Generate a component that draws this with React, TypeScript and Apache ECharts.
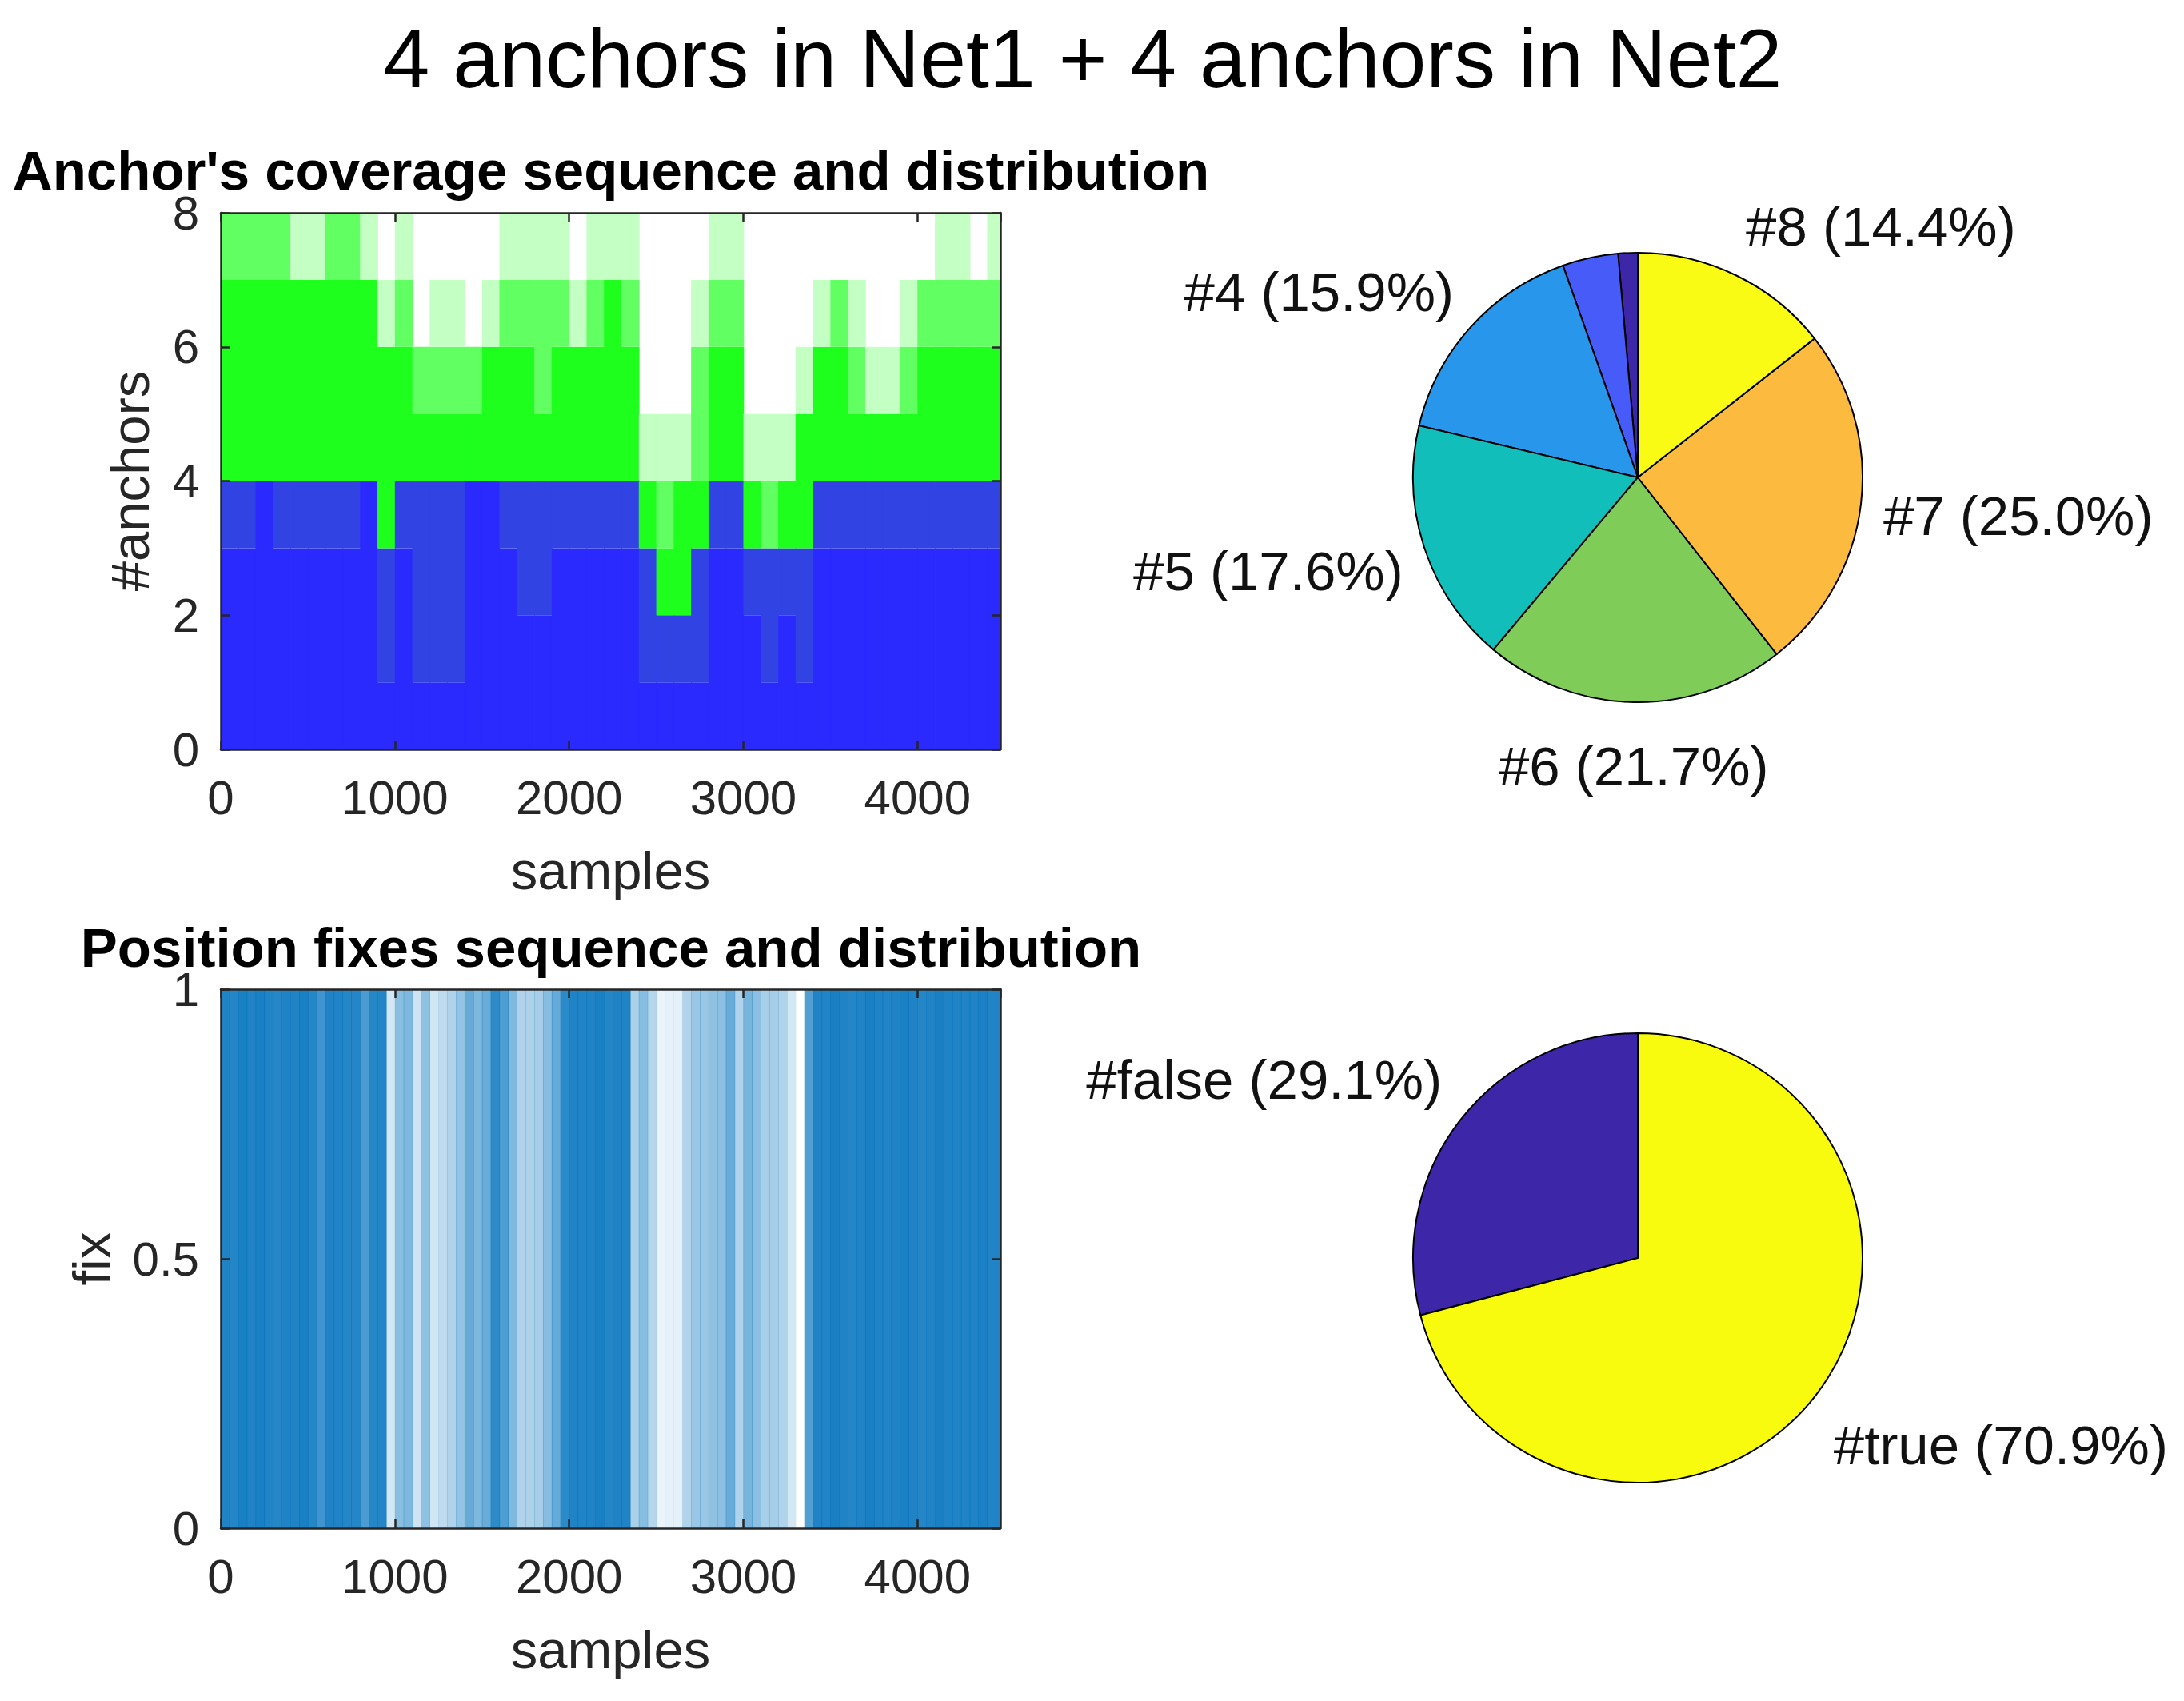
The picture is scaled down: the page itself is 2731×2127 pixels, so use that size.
import React, { useEffect, useRef } from "react";
import * as echarts from "echarts";

// ---------------- data ----------------
const X_MAX = 4476;
const X_TICK_STEP = 1000;

// anchor coverage, summarised per bin of 100 samples
const COVERAGE_BIN = 100;
const net1Min = [3, 3, 4, 3, 3, 3, 3, 3, 4, 1, 3, 1, 1, 1, 4, 4, 3, 2, 2, 3, 3, 3, 3, 3, 1, 1, 1, 1, 3, 3, 2, 1, 2, 1, 3, 3, 3, 3, 3, 3, 3, 3, 3, 3, 3];
const net1Main = [4, 4, 4, 4, 4, 4, 4, 4, 4, 3, 4, 4, 4, 4, 4, 4, 4, 4, 4, 4, 4, 4, 4, 4, 3, 2, 2, 3, 4, 4, 3, 3, 3, 3, 4, 4, 4, 4, 4, 4, 4, 4, 4, 4, 4];
const totalMin = [7, 7, 7, 7, 7, 7, 7, 7, 7, 6, 6, 5, 5, 5, 5, 6, 6, 6, 5, 6, 6, 6, 7, 6, 4, 3, 4, 4, 6, 6, 4, 3, 4, 5, 6, 6, 5, 5, 5, 5, 6, 6, 6, 6, 6];
const totalMain = [8, 8, 8, 8, 7, 7, 8, 8, 7, 6, 7, 6, 6, 6, 6, 6, 7, 7, 7, 7, 6, 7, 7, 7, 4, 4, 4, 6, 7, 7, 4, 4, 4, 5, 6, 7, 6, 5, 5, 6, 7, 7, 7, 7, 7];
const totalMax = [8, 8, 8, 8, 8, 8, 8, 8, 8, 7, 8, 6, 7, 7, 6, 7, 8, 8, 8, 8, 7, 8, 8, 8, 5, 5, 5, 7, 8, 8, 5, 5, 5, 6, 7, 7, 7, 6, 6, 7, 7, 8, 8, 7, 8];
const anchorTicks = { min: 0, max: 8, interval: 2 };

// position fixes, share of samples with a fix per bin of 50 samples
const FIX_BIN = 50;
const fixShare = [
  0.88, 0.86, 0.9, 0.88, 0.9, 0.87, 0.85, 0.88, 0.88, 0.9,
  0.85, 0.75, 0.88, 0.87, 0.85, 0.86, 0.7, 0.85, 0.86,
  0.17, 0.46, 0.5, 0.19, 0.44, 0.18, 0.25, 0.31, 0.42, 0.6,
  0.5, 0.59, 0.82, 0.69, 0.5, 0.31, 0.32, 0.35, 0.47, 0.6,
  0.83, 0.88, 0.87, 0.88, 0.9, 0.86, 0.88, 0.88,
  0.33, 0.47, 0.29, 0.08, 0.1, 0.1, 0.3, 0.4, 0.4, 0.44,
  0.45, 0.59, 0.31, 0.53, 0.45, 0.34, 0.35, 0.3, 0.17, 0,
  0.68,
  0.88, 0.87, 0.9, 0.88, 0.86, 0.88, 0.9, 0.88, 0.87, 0.88, 0.89,
  0.88, 0.86, 0.88, 0.9, 0.88, 0.87, 0.88, 0.88, 0.89, 0.87, 0.88,
];
const fixTicks = { min: 0, max: 1, interval: 0.5 };

// pie distributions
const anchorNames = ["#2", "#3", "#4", "#5", "#6", "#7", "#8"];
const anchorShares = [1.4, 4.0, 15.9, 17.6, 21.7, 25.0, 14.4];
const anchorLabelled = [false, false, true, true, true, true, true];
const anchorColors = ["#3e26a8", "#475bf9", "#2796eb", "#12beb9", "#80cc59", "#fcbb3e", "#f9fb14"];

const fixNames = ["#false", "#true"];
const fixShares = [29.1, 70.9];
const fixColors = ["#3e26a8", "#f9fb0e"];

// ---------------- styling ----------------
const FONT = "'Liberation Sans', Arial, Helvetica, sans-serif";
const AX = "#262626";
const BLUE = "#2a2aff";
const BLUE_MIX = "#3243e4";
const GREEN = "#1eff1e";
const GREEN_MID = "#62ff62";
const GREEN_LIGHT = "#c4ffc4";
const FIX_BLUE = "#0072bd";

const GRID_LEFT = 276;
const GRID_W = 975;
const TOP_GRID = { top: 266, height: 671 };
const BOT_GRID = { top: 1237, height: 674 };
const PIE_CX = 2048;
const PIE_R = 281;
const PIE1_CY = 597;
const PIE2_CY = 1573;

function xAxis(gridIndex: number, main: boolean) {
  return {
    type: "value",
    gridIndex,
    position: main ? "bottom" : "top",
    min: 0,
    max: X_MAX,
    interval: X_TICK_STEP,
    z: 6,
    axisLine: { show: true, onZero: false, lineStyle: { color: AX, width: 2.5 } },
    axisTick: { show: true, inside: true, length: 11, lineStyle: { color: AX, width: 2.5 } },
    axisLabel: {
      show: main,
      showMaxLabel: false,
      fontSize: 60,
      lineHeight: 56,
      fontFamily: FONT,
      color: AX,
      margin: 32,
      formatter: (v: number) => String(v),
    },
    splitLine: { show: false },
    name: main ? "samples" : "",
    nameLocation: "middle",
    nameGap: 118,
    nameTextStyle: { fontSize: 67, fontFamily: FONT, color: AX },
  };
}

function yAxis(gridIndex: number, main: boolean, ticks: { min: number; max: number; interval: number }, name: string, gap: number) {
  return {
    type: "value",
    gridIndex,
    position: main ? "left" : "right",
    min: ticks.min,
    max: ticks.max,
    interval: ticks.interval,
    z: 6,
    axisLine: { show: true, onZero: false, lineStyle: { color: AX, width: 2.5 } },
    axisTick: { show: true, inside: true, length: 11, lineStyle: { color: AX, width: 2.5 } },
    axisLabel: {
      show: main,
      fontSize: 60,
      lineHeight: 56,
      fontFamily: FONT,
      color: AX,
      margin: 27,
      formatter: (v: number) => String(v),
    },
    splitLine: { show: false },
    name: main ? name : "",
    nameLocation: "middle",
    nameGap: gap,
    nameRotate: 90,
    nameTextStyle: { fontSize: 67, fontFamily: FONT, color: AX },
  };
}

function pieLabelLayout(shares: number[], cx: number, cy: number, r: number, vFactor: number) {
  const total = shares.reduce((a, b) => a + b, 0);
  return (params: any) => {
    const i = params.dataIndex;
    let before = 0;
    for (let k = 0; k < i; k++) before += shares[k];
    const mid = (before + shares[i] / 2) / total;
    const phi = mid * Math.PI * 2; // counter-clockwise from 12 o'clock
    const dx = -Math.sin(phi);
    const dyUp = Math.cos(phi);
    let x: number;
    let align: string;
    if (Math.abs(dx) > 0.15) {
      x = cx + dx * 1.1 * r;
      align = dx > 0 ? "left" : "right";
    } else {
      x = cx + dx * 1.2 * r;
      align = "center";
    }
    const y = cy - dyUp * vFactor * r + 6;
    return { x, y, align, verticalAlign: "middle" };
  };
}

function pieSeries(names: string[], shares: number[], colors: string[], shown: boolean[], cy: number, vFactor: number) {
  return {
    type: "pie",
    center: [PIE_CX, cy],
    radius: PIE_R,
    startAngle: 90,
    clockwise: false,
    silent: true,
    avoidLabelOverlap: false,
    itemStyle: { borderColor: "#000", borderWidth: 2 },
    label: {
      show: true,
      position: "outside",
      fontSize: 69,
      fontFamily: FONT,
      color: "#111",
      formatter: (p: any) => `${p.name} (${p.percent.toFixed(1)}%)`,
    },
    labelLine: { show: false },
    labelLayout: pieLabelLayout(shares, PIE_CX, cy, PIE_R, vFactor),
    data: names.map((n, i) => ({
      name: n,
      value: shares[i],
      itemStyle: { color: colors[i] },
      label: { show: shown[i] },
    })),
  };
}

export default function App() {
  const ref = useRef<HTMLDivElement>(null);

  useEffect(() => {
    document.body.style.margin = "0";
    if (!ref.current) return;
    const chart = echarts.init(ref.current, undefined, { renderer: "svg" });

    const coverageData = net1Min.map((_, i) => [
      i * COVERAGE_BIN,
      Math.min((i + 1) * COVERAGE_BIN, X_MAX),
      net1Min[i],
      net1Main[i],
      totalMin[i],
      totalMain[i],
      totalMax[i],
    ]);
    const fixData = fixShare.map((v, i) => [i * FIX_BIN, Math.min((i + 1) * FIX_BIN, X_MAX), v]);

    const coverageRender = (params: any, api: any) => {
      const x0 = api.value(0);
      const x1 = api.value(1);
      const lv = [0, api.value(2), api.value(3), api.value(4), api.value(5), api.value(6)];
      const fills = [BLUE, BLUE_MIX, GREEN, GREEN_MID, GREEN_LIGHT];
      const children: any[] = [];
      for (let k = 0; k < 5; k++) {
        const a = lv[k];
        const b = lv[k + 1];
        if (b <= a) continue;
        const p = api.coord([x0, b]);
        const q = api.coord([x1, a]);
        children.push({
          type: "rect",
          shape: { x: p[0], y: p[1], width: q[0] - p[0] + 0.8, height: q[1] - p[1] },
          style: { fill: fills[k] },
        });
      }
      return { type: "group", children };
    };

    const fixRender = (params: any, api: any) => {
      const p = api.coord([api.value(0), 1]);
      const q = api.coord([api.value(1), 0]);
      return {
        type: "rect",
        shape: { x: p[0], y: p[1], width: q[0] - p[0] + 0.6, height: q[1] - p[1] },
        style: { fill: FIX_BLUE, opacity: api.value(2) },
      };
    };

    const titleStyle = (text: string, size: number, bold: boolean) => ({
      text,
      fontSize: size,
      lineHeight: bold ? 60 : size,
      fontWeight: bold ? "bold" : "normal",
      fontFamily: FONT,
      fill: "#000",
      align: "center",
      verticalAlign: "middle",
      textAlign: "center",
      textVerticalAlign: "middle",
    });

    chart.setOption({
      animation: false,
      backgroundColor: "#ffffff",
      grid: [
        { left: GRID_LEFT, width: GRID_W, top: TOP_GRID.top, height: TOP_GRID.height },
        { left: GRID_LEFT, width: GRID_W, top: BOT_GRID.top, height: BOT_GRID.height },
      ],
      xAxis: [xAxis(0, true), xAxis(0, false), xAxis(1, true), xAxis(1, false)],
      yAxis: [
        yAxis(0, true, anchorTicks, "#anchors", 80),
        yAxis(0, false, anchorTicks, "", 0),
        yAxis(1, true, fixTicks, "fix", 128),
        yAxis(1, false, fixTicks, "", 0),
      ],
      graphic: [
        { type: "text", x: 1354, y: 73, style: titleStyle("4 anchors in Net1 + 4 anchors in Net2", 104, false) },
        { type: "text", x: 764, y: 213, style: titleStyle("Anchor's coverage sequence and distribution", 69, true) },
        { type: "text", x: 764, y: 1185, style: titleStyle("Position fixes sequence and distribution", 69, true) },
      ],
      series: [
        {
          type: "custom",
          name: "coverage",
          xAxisIndex: 0,
          yAxisIndex: 0,
          clip: true,
          silent: true,
          encode: { x: [0, 1], y: [2, 3, 4, 5, 6] },
          renderItem: coverageRender,
          data: coverageData,
        },
        {
          type: "custom",
          name: "fix",
          xAxisIndex: 2,
          yAxisIndex: 2,
          clip: true,
          silent: true,
          encode: { x: [0, 1], y: 2 },
          renderItem: fixRender,
          data: fixData,
        },
        pieSeries(anchorNames, anchorShares, anchorColors, anchorLabelled, PIE1_CY, 1.265),
        pieSeries(fixNames, fixShares, fixColors, [true, true], PIE2_CY, 1.335),
      ],
    });

    return () => chart.dispose();
  }, []);

  return <div ref={ref} style={{ width: 2731, height: 2127 }} />;
}
